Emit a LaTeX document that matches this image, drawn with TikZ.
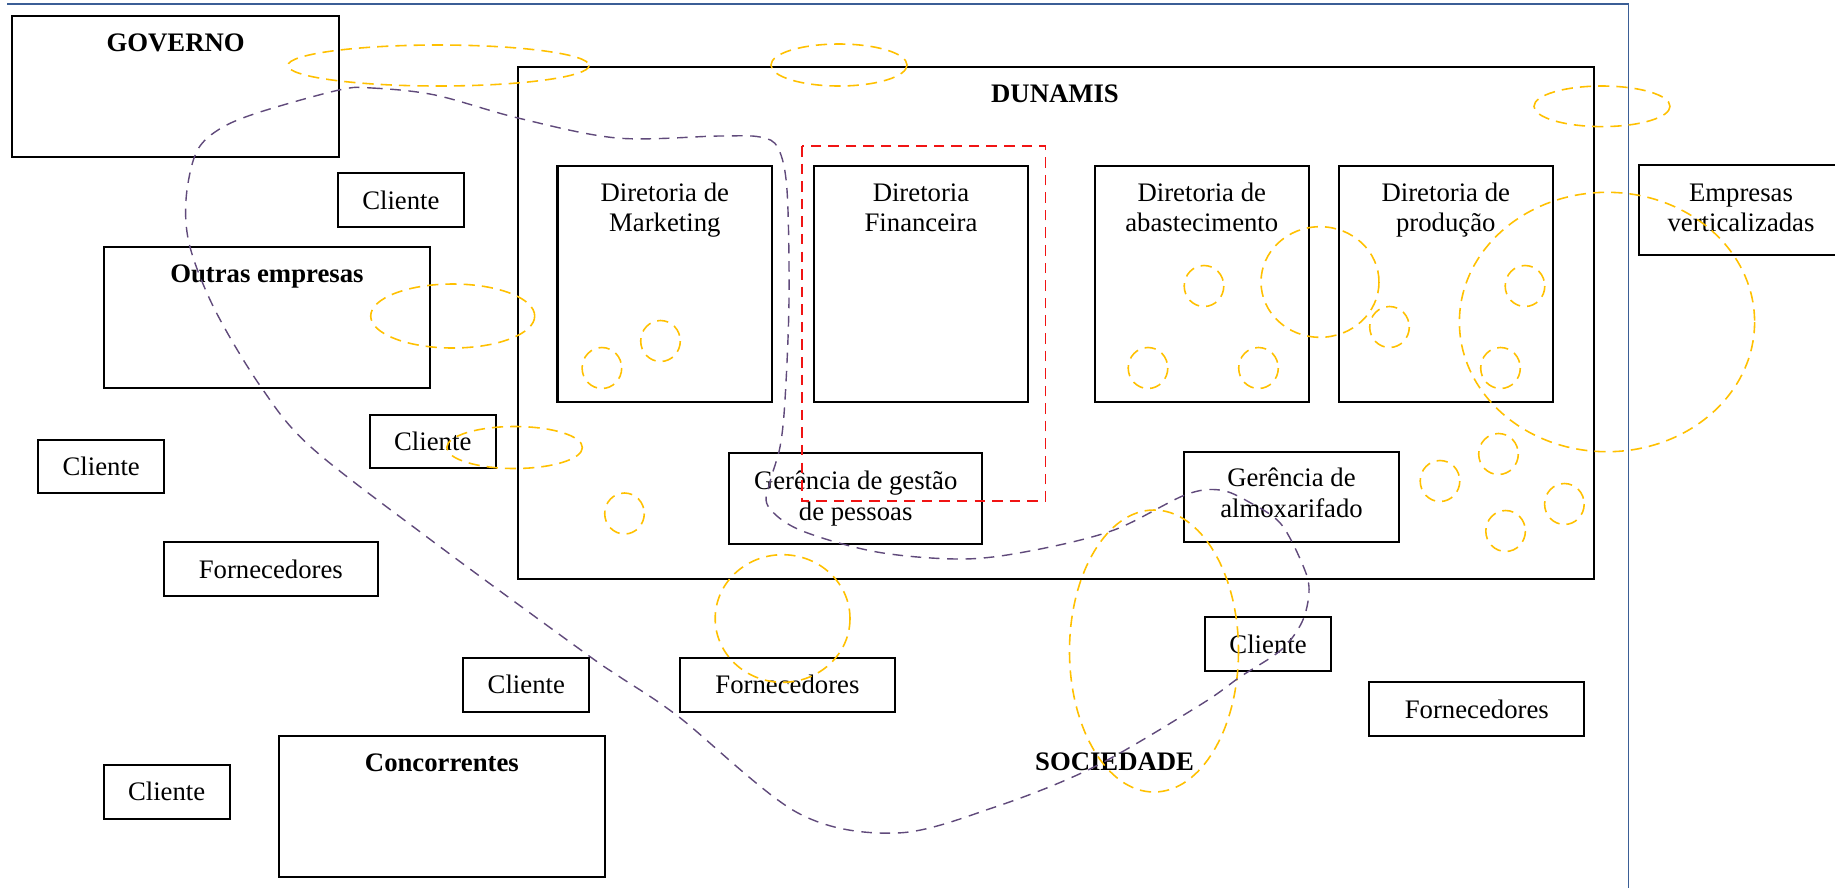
\documentclass[tikz,border=0pt]{standalone}
\usepackage{fontspec}
\setmainfont{Liberation Serif}
\begin{document}
\definecolor{frameblue}{RGB}{59,94,150}
\definecolor{gold}{RGB}{255,192,0}
\definecolor{purp}{RGB}{96,74,123}
\definecolor{redd}{RGB}{240,20,20}
\tikzset{
  boxstyle/.style={draw=black, line width=0.57pt, inner sep=0pt, outer sep=0pt, fill=none},
  lbl/.style={anchor=base, inner sep=0pt, font=\fontsize{7.6}{8.7}\selectfont},
  blbl/.style={lbl, font=\fontsize{7.6}{8.7}\selectfont\bfseries},
  goldring/.style={draw=gold, line width=0.45pt, dash pattern=on 3.2pt off 2pt},
  purpline/.style={draw=purp, line width=0.4pt, dash pattern=on 3pt off 2.2pt},
  redbox/.style={draw=redd, line width=0.5pt, dash pattern=on 3pt off 2pt}
}
% rectangular box given by its corners in pixel units
\newcommand\pbox[6]{%
  \pgfmathsetmacro\bw{(#4-#2)*0.01}%
  \pgfmathsetmacro\bh{(#5-#3)*0.01}%
  \node[boxstyle, minimum width=\bw cm, minimum height=\bh cm,
        font=\fontsize{7.6}{8.7}\selectfont] (#1) at ({(#2+#4)/2},{(#3+#5)/2}) {#6};}
\begin{tikzpicture}[x=0.01cm, y=-0.01cm]
\useasboundingbox (0,0) rectangle (1835,887);

% outer frame (top and right edges)
\coordinate (fa) at (7,4);
\coordinate (fb) at (1628.5,4);
\coordinate (fc) at (1628.5,890);
\draw[frameblue, line width=0.55pt] (fa) -- (fb) -- (fc);

% organisation
\pbox{dun}{518}{66.7}{1593.7}{578.7}{}
\node[blbl] (dunt) at (1055,102.3) {DUNAMIS};

\pbox{mkt}{557.5}{165.7}{772}{402.3}{}
\node[lbl] (mkt1) at (664.8,201) {Diretoria de};
\node[lbl] (mkt2) at (664.8,231.7) {Marketing};

\pbox{fin}{813.9}{165.7}{1028.2}{402.3}{}
\node[lbl] (fin1) at (921,201) {Diretoria};
\node[lbl] (fin2) at (921,231.7) {Financeira};

\pbox{aba}{1094.7}{165.7}{1309}{402.3}{}
\node[lbl] (aba1) at (1201.8,201) {Diretoria de};
\node[lbl] (aba2) at (1201.8,231.7) {abastecimento};

\pbox{pro}{1338.9}{165.7}{1552.8}{402.3}{}
\node[lbl] (pro1) at (1445.8,201) {Diretoria de};
\node[lbl] (pro2) at (1445.8,231.7) {produção};

\pbox{ggp}{729.3}{453.3}{982}{543.7}{}
\node[lbl] (ggp1) at (855.7,489.3) {Gerência de gestão};
\node[lbl] (ggp2) at (855.7,520) {de pessoas};

\pbox{alm}{1184.4}{452.3}{1398.5}{542}{}
\node[lbl] (alm1) at (1291.5,486.7) {Gerência de};
\node[lbl] (alm2) at (1291.5,517.3) {almoxarifado};

% environment
\pbox{gov}{12.3}{15.7}{338.9}{156.7}{}
\node[blbl] (govt) at (175.6,51.7) {GOVERNO};

\pbox{out}{103.6}{247}{430.2}{388.3}{}
\node[blbl] (outt) at (266.9,282.7) {Outras empresas};

\pbox{con}{278.8}{735.7}{605}{877}{}
\node[blbl] (cont) at (441.9,771.7) {Concorrentes};

\pbox{emp}{1638.6}{165.3}{1845}{255.3}{}
\node[lbl] (emp1) at (1741,201) {Empresas};
\node[lbl] (emp2) at (1741,231.7) {verticalizadas};

\pbox{cl1}{338}{173}{463.8}{227}{Cliente}
\pbox{cl2}{369.7}{414.7}{495.8}{468.3}{Cliente}
\pbox{cl3}{38.4}{439.7}{164.1}{493}{Cliente}
\pbox{cl4}{463.4}{657.7}{589.2}{711.7}{Cliente}
\pbox{cl5}{103.6}{764.7}{229.7}{818.7}{Cliente}
\pbox{cl6}{1204.9}{617}{1331.2}{670.7}{Cliente}

\pbox{fo1}{163.7}{542}{378}{595.7}{Fornecedores}
\pbox{fo2}{680.3}{657.7}{894.6}{711.7}{Fornecedores}
\pbox{fo3}{1369.3}{682.3}{1584.4}{736}{Fornecedores}

\node[blbl] (soc) at (1114.6,770.7) {SOCIEDADE};

% financial area highlight
\draw[redbox] (802,146) rectangle (1045.6,501);

% relationship ellipses
\draw[goldring] (438.5,65.5) ellipse [x radius=150.6, y radius=20.5];
\draw[goldring] (839,65) ellipse [x radius=68, y radius=21];
\draw[goldring] (1602,106.3) ellipse [x radius=68, y radius=20.3];
\draw[goldring] (452.7,316) ellipse [x radius=82, y radius=32];
\draw[goldring] (514.6,447.5) ellipse [x radius=67.8, y radius=21];
\draw[goldring] (1607,322) ellipse [x radius=147.6, y radius=129.7];
\draw[goldring] (1320,282) ellipse [x radius=59, y radius=55.3];
\draw[goldring] (782.6,618.5) ellipse [x radius=67.4, y radius=63.8];
\draw[goldring] (1154,651) ellipse [x radius=84.5, y radius=141];

% small rings
\foreach \cx/\cy in {601.9/368, 660.5/341, 624.5/513.5,
                     1204/286, 1148/368, 1258.5/368, 1389.5/327,
                     1525/286, 1500.5/368,
                     1440/481, 1498.5/454, 1564.4/504, 1505.6/531}
  \draw[goldring] (\cx,\cy) ellipse [x radius=19.8, y radius=20.5];

% boundary of the network
\draw[purpline] plot[smooth cycle, tension=0.55] coordinates {
  (339,90) (372,88) (435,95) (518,118) (617,138) (719,136) (760,137)
  (778,148) (787,190) (789,300) (785,400) (780,447) (770,482) (768,506)
  (800,530) (877,552) (964,559) (1035,550) (1114,530) (1185,495)
  (1220,490) (1249,502) (1281,524) (1304,568) (1309,592) (1302,622)
  (1281,650) (1240,677) (1200,705) (1094,767) (995,807) (897,833)
  (798,813) (679,717) (620,677) (585,653) (435,543) (312,448) (261,387)
  (215,310) (190,247) (186,200) (196,153) (218,130) (257,113)
};

\end{tikzpicture}
\end{document}
